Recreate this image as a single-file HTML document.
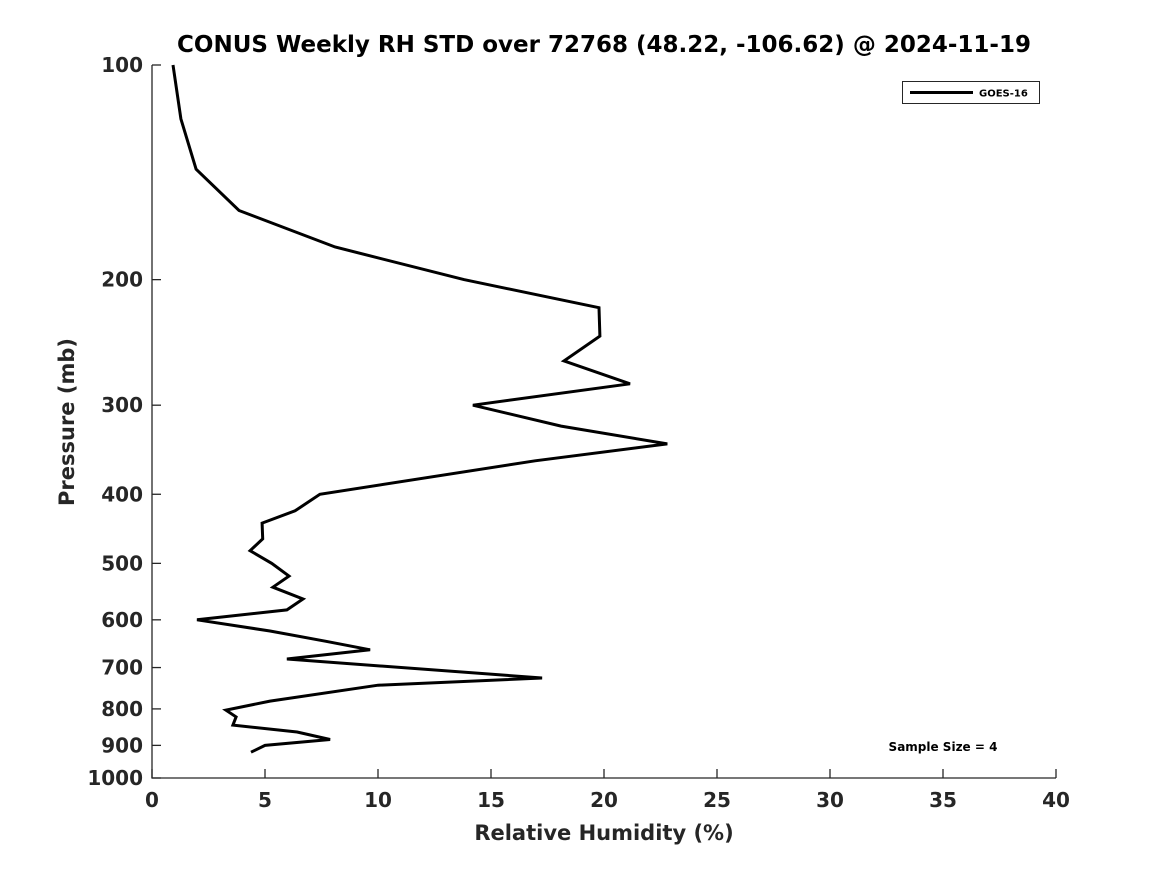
<!DOCTYPE html>
<html><head><meta charset="utf-8"><style>
html,body{margin:0;padding:0;background:#fff;}
svg{display:block;font-family:"DejaVu Sans","Liberation Sans",sans-serif;font-weight:bold;}
</style></head><body>
<svg id="chart" width="1167" height="875" viewBox="0 0 1167 875"></svg>
<script>
const rhValues=[0.93,1.28,1.95,3.85,8.1,13.8,19.78,19.82,18.23,21.15,14.2,18.1,22.8,16.95,7.43,6.33,4.87,4.9,4.34,5.3,6.06,5.35,6.68,5.97,1.99,5.22,7.7,9.65,5.97,17.26,10.0,5.22,3.27,3.72,3.58,6.42,7.88,5.0,4.38];
const pressures=[100,119,140,160,180,200,219,240,260,280,300,321,340,359,400,422,439,462,480,500,521,540,561,581,600,622,643,661,681,724,741,780,803,821,843,862,883,900,920];
const xTicks=[0,5,10,15,20,25,30,35,40];
const yTicks=[100,200,300,400,500,600,700,800,900,1000];
const NS="http://www.w3.org/2000/svg";
const svg=document.getElementById('chart');
const L=152,R=1056,T=65,B=778;
const xs=v=>L+(v-0)/(40-0)*(R-L);
const ys=p=>T+(Math.log10(p)-2)*(B-T);
function mk(tag,attrs,parent){const e=document.createElementNS(NS,tag);for(const k in attrs)e.setAttribute(k,attrs[k]);(parent||svg).appendChild(e);return e;}
const col="#262626";
// axes
const ax=mk('path',{d:`M${L},${T}V${B}H${R}`,fill:'none',stroke:col,'stroke-width':1.3});


xTicks.forEach(t=>{const x=xs(t);
 const l=mk('line',{x1:x,x2:x,y1:B,y2:B-9,stroke:col,'stroke-width':1.3});
 
 
 const tx=mk('text',{x:x,y:B+29,'text-anchor':'middle','font-size':20,fill:col});tx.textContent=t;
 
 
});
yTicks.forEach(t=>{const y=ys(t);
 const l=mk('line',{x1:L,x2:L+9,y1:y,y2:y,stroke:col,'stroke-width':1.3});
 
 
 const tx=mk('text',{x:L-9,y:y+7,'text-anchor':'end','font-size':20,fill:col});tx.textContent=t;
 
 
});
// series
const pts=rhValues.map((v,i)=>xs(v).toFixed(1)+','+ys(pressures[i]).toFixed(1)).join(' ');
const line=mk('polyline',{points:pts,fill:'none',stroke:'#000','stroke-width':3,'stroke-linejoin':'miter'});


</script>
<svg width="0" height="0"></svg>
<div style="position:absolute;left:0;top:0;width:1167px;height:875px;pointer-events:none;">
<svg width="1167" height="875" style="position:absolute;left:0;top:0;">
<text x="604" y="52" text-anchor="middle" font-size="23" fill="#000">CONUS Weekly RH STD over 72768 (48.22, -106.62) @ 2024-11-19</text>
<text x="604" y="840" text-anchor="middle" font-size="21" fill="#262626">Relative Humidity (%)</text>
<text x="0" y="0" transform="translate(74,422) rotate(-90)" text-anchor="middle" font-size="21" fill="#262626">Pressure (mb)</text>
<g>
<rect x="902.5" y="81.5" width="137" height="22" fill="#fff" stroke="#262626" stroke-width="1"/>
<line x1="910" x2="973" y1="92.5" y2="92.5" stroke="#000" stroke-width="3"/>
<text x="979" y="96.5" font-size="10" fill="#000">GOES-16</text>
</g>
<text x="943" y="751" text-anchor="middle" font-size="12" fill="#000">Sample Size = 4</text>
</svg></div>
</body></html>
